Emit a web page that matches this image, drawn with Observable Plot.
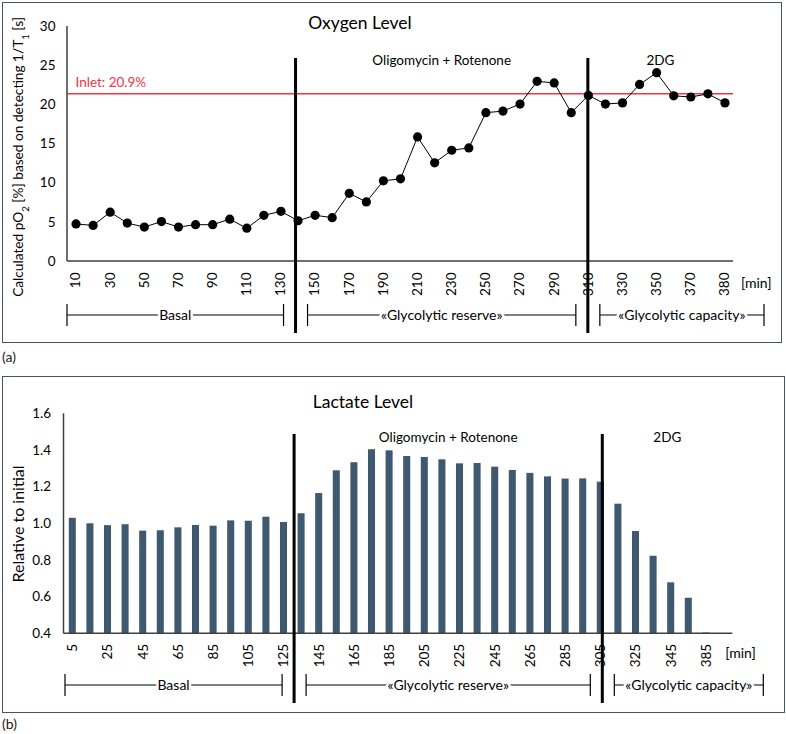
<!DOCTYPE html>
<html><head><meta charset="utf-8">
<script src="https://cdn.jsdelivr.net/npm/d3@7"></script>
<script src="https://cdn.jsdelivr.net/npm/@observablehq/plot@0.6"></script>
<style>
body{margin:0;background:#fff;font-family:Lato,sans-serif;}
#wrap{position:relative;width:786px;height:734px;overflow:hidden;}
.box{position:absolute;border:1.5px solid #44546a;box-sizing:border-box;}
.tag{position:absolute;left:2px;font-size:14px;color:#222;line-height:1.2;}
.svgpos{position:absolute;left:0;}
</style></head><body>
<div id="wrap">
 <div class="box" style="left:2px;top:2px;width:780px;height:341px"></div>
 <div class="tag" style="top:349px">(a)</div>
 <div class="box" style="left:2px;top:376px;width:783px;height:337px"></div>
 <div class="tag" style="top:716px">(b)</div>
 <div id="pa" class="svgpos" style="top:0"></div>
 <div id="pb" class="svgpos" style="top:370px"></div>
</div>
<script>
// ---------- Panel (a): Oxygen level ----------
const oxyTitle = "Oxygen Level";
const oxyMin = [10,20,30,40,50,60,70,80,90,100,110,120,130,140,150,160,170,180,190,200,210,220,230,240,250,260,270,280,290,300,310,320,330,340,350,360,370,375,380];
const oxyPO2 = [4.8,4.6,6.3,4.9,4.4,5.1,4.4,4.7,4.7,5.4,4.25,5.9,6.4,5.2,5.9,5.6,8.7,7.6,10.3,10.55,15.9,12.6,14.2,14.5,19.0,19.2,20.1,23.0,22.8,19.0,21.2,20.1,20.25,22.6,24.1,21.15,21.0,21.4,20.25];
const oxyTickLabels = [10,30,50,70,90,110,130,150,170,190,210,230,250,270,290,310,330,350,370,380];
const oxyYTicks = [0,5,10,15,20,25,30];
const inletLevel = 21.4;
const inletLabel = "Inlet: 20.9%";

// ---------- Panel (b): Lactate level ----------
const lacTitle = "Lactate Level";
const lacMin = [5,15,25,35,45,55,65,75,85,95,105,115,125,135,145,155,165,175,185,195,205,215,225,235,245,255,265,275,285,295,305,315,325,335,345,355,385,395];
const lacRel = [1.03,1.00,0.99,0.995,0.96,0.962,0.978,0.991,0.987,1.016,1.014,1.036,1.007,1.055,1.165,1.289,1.333,1.404,1.398,1.367,1.362,1.349,1.327,1.329,1.309,1.291,1.275,1.256,1.244,1.245,1.227,1.107,0.958,0.823,0.678,0.594,0.404];
const lacTickLabels = [5,25,45,65,85,105,125,145,165,185,205,225,245,265,285,305,325,345,385];
const lacYTicks = [0.4,0.6,0.8,1.0,1.2,1.4,1.6];

const phaseNames = ["Basal","«Glycolytic reserve»","«Glycolytic capacity»"];
const treatmentNames = ["Oligomycin + Rotenone","2DG"];
const unitLabel = "[min]";

const oxyData = oxyMin.map((m,i)=>({m, v: oxyPO2[i]}));
const lacData = lacRel.map((v,i)=>({m: lacMin[i], v}));

function decor(o){
  return (index, scales, values, dims) => {
    const x = scales.x, y = scales.y;
    const bw = x.bandwidth ? x.bandwidth() : 0;
    const L = dims.marginLeft, R = dims.width - dims.marginRight;
    const T = dims.marginTop, B = dims.height - dims.marginBottom;
    const g = d3.create("svg:g").attr("text-anchor","middle").attr("fill","#000");
    const ax = "#404040";
    g.append("line").attr("x1",L).attr("x2",L).attr("y1",T).attr("y2",B).attr("stroke",ax).attr("stroke-width",1.5);
    g.append("line").attr("x1",L).attr("x2",R).attr("y1",B).attr("y2",B).attr("stroke",ax).attr("stroke-width",1.5);
    // phase separators
    const p = o.phases.map(ph => x(ph.at) + bw/2 + ph.dx);
    const top = y(o.phaseTop), bot = dims.height - 12;
    p.forEach(px => g.append("line").attr("x1",px).attr("x2",px).attr("y1",top).attr("y2",bot)
      .attr("stroke","#000").attr("stroke-width",3));
    // brackets
    const by = dims.height - 30, gap = 12;
    const segs = [[L + o.bracketStart, p[0]-gap],[p[0]+gap, p[1]-gap],[p[1]+gap, R+31]];
    segs.forEach(([a,b],i)=>{
      g.append("line").attr("x1",a).attr("x2",b).attr("y1",by).attr("y2",by).attr("stroke","#000").attr("stroke-width",1);
      [a,b].forEach(e=>g.append("line").attr("x1",e).attr("x2",e).attr("y1",by-11).attr("y2",by+11).attr("stroke","#000").attr("stroke-width",1.2));
      g.append("text").attr("x",(a+b)/2).attr("y",by).attr("dy","0.35em").attr("text-anchor","middle")
        .attr("font-size",14).attr("fill","#000").attr("stroke","#fff").attr("stroke-width",5)
        .attr("paint-order","stroke").text(phaseNames[i]);
    });
    // treatments
    const tx = [(p[0]+p[1])/2, (p[1]+R)/2];
    treatmentNames.forEach((t,i)=>g.append("text").attr("x",tx[i]).attr("y",o.treatY).attr("text-anchor","middle")
      .attr("font-size",13.5).text(t));
    // title
    g.append("text").attr("x",o.titleX).attr("y",o.titleY).attr("text-anchor","middle")
      .attr("font-size",17.5).text(o.title);
    // unit
    g.append("text").attr("x",R+o.minDX).attr("y",B+o.minDY).attr("dy","0.35em").attr("text-anchor","start")
      .attr("font-size",14).text(unitLabel);
    // y title
    const yt = g.append("text").attr("transform",`translate(18,${o.yTitleY}) rotate(-90)`)
      .attr("text-anchor","middle").attr("dy","0.35em").attr("font-size",o.yTitleSize);
    o.yTitle.forEach(part=>{
      const ts = yt.append("tspan").text(part.t);
      if (part.sub) ts.attr("baseline-shift","sub").attr("font-size","70%");
    });
    return g.node();
  };
}

const baseStyle = {fontFamily:"Lato, sans-serif", fontSize:"13.5px", color:"#000", background:"transparent", overflow:"visible"};

const plotA = Plot.plot({
  width: 786, height: 345,
  marginLeft: 67, marginRight: 53, marginTop: 26, marginBottom: 84,
  style: baseStyle,
  x: {type:"band", domain: oxyMin, padding: 0, round: false, ticks: oxyTickLabels, tickRotate: -90, tickSize: 0, tickPadding: 11, label: null},
  y: {domain:[0,30], ticks: oxyYTicks, tickSize: 0, tickPadding: 12, label: null},
  marks: [
    Plot.ruleY([{v: inletLevel}], {y:"v", stroke:"#f5333f", strokeWidth:1.5}),
    Plot.text([{v: inletLevel, label: inletLabel}], {y:"v", text:"label", frameAnchor:"left", textAnchor:"start", dx:8, dy:-11, fill:"#f5333f", fontSize:13.5}),
    Plot.line(oxyData, {x:"m", y:"v", stroke:"#000", strokeWidth:1}),
    Plot.dot(oxyData, {x:"m", y:"v", r:4.6, fill:"#000"}),
    decor({phases:[{at:140,dx:-2},{at:310,dx:0}], phaseTop:25.9, bracketStart:0, treatY:65,
      title:oxyTitle, titleX:360, titleY:29, minDX:8, minDY:22, yTitleY:157, yTitleSize:13.7,
      yTitle:[{t:"Calculated pO"},{t:"2",sub:true},{t:" [%] based on detecting 1/T"},{t:"1",sub:true},{t:" [s]"}]})
  ]
});
document.getElementById("pa").appendChild(plotA);

const plotB = Plot.plot({
  width: 786, height: 345,
  marginLeft: 63.5, marginRight: 53.7, marginTop: 43.3, marginBottom: 81.7,
  style: baseStyle,
  x: {type:"band", domain: lacMin, paddingInner: 0.6, paddingOuter: 0.3, round: false, ticks: lacTickLabels, tickRotate: -90, tickSize: 0, tickPadding: 10, label: null},
  y: {domain:[0.4,1.6], ticks: lacYTicks, tickFormat: d3.format(".1f"), tickSize: 0, tickPadding: 13, label: null},
  marks: [
    Plot.barY(lacData, {x:"m", y1:0.4, y2:"v", fill:"#3f5a70"}),
    decor({phases:[{at:135,dx:-7},{at:305,dx:2}], phaseTop:1.487, bracketStart:1.5, treatY:72,
      title:lacTitle, titleX:363, titleY:38, minDX:-7, minDY:20, yTitleY:154, yTitleSize:16,
      yTitle:[{t:"Relative to initial"}]})
  ]
});
document.getElementById("pb").appendChild(plotB);
</script>
</body></html>
